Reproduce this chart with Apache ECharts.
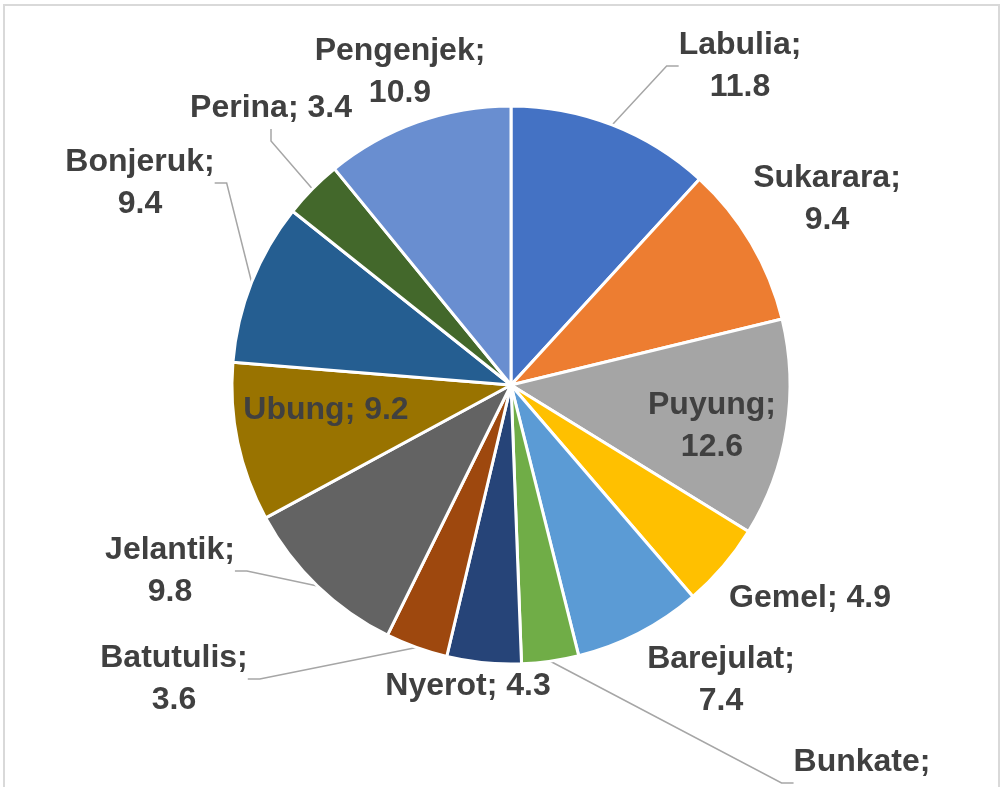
<!DOCTYPE html>
<html>
<head>
<meta charset="utf-8">
<script src="https://cdn.jsdelivr.net/npm/echarts@6/dist/echarts.min.js"></script>
<style>
  html, body { margin: 0; padding: 0; background: #fff; }
  #chart { width: 1004px; height: 787px; }
</style>
</head>
<body>
<div id="chart"></div>
<script>
// data, clockwise from 12 o'clock
var names = ['Labulia', 'Sukarara', 'Puyung', 'Gemel', 'Barejulat', 'Bunkate', 'Nyerot',
    'Batutulis', 'Jelantik', 'Ubung', 'Bonjeruk', 'Perina', 'Pengenjek'];
var values = [11.8, 9.4, 12.6, 4.9, 7.4, 3.3, 4.3, 3.6, 9.8, 9.2, 9.4, 3.4, 10.9];
var colors = ['#4472C4', '#ED7D31', '#A5A5A5', '#FFC000', '#5B9BD5', '#70AD47', '#264478',
    '#9E480E', '#636363', '#997300', '#255E91', '#43682B', '#698ED0'];

// labels written on one line
var oneLine = ['Gemel', 'Nyerot', 'Ubung', 'Perina'];
// labels with a leader line
var withLine = ['Labulia', 'Bunkate', 'Batutulis', 'Jelantik', 'Bonjeruk', 'Perina'];
// label centres (px)
var labelPos = [
    [740, 66], [827, 199], [712, 426], [810, 598], [721, 680], [862, 783], [468, 686],
    [174, 679], [170, 571], [326, 410], [140, 183], [271, 108], [400, 72]
];

var chart = echarts.init(document.getElementById('chart'));

var pieData = names.map(function (n, i) {
    return {
        name: n,
        value: values[i],
        itemStyle: { color: colors[i] },
        labelLine: { show: withLine.indexOf(n) >= 0 }
    };
});

var option = {
    animation: false,
    graphic: [{
        type: 'rect',
        shape: { x: 4, y: 5, width: 995, height: 900 },
        style: { fill: 'none', stroke: '#d9d9d9', lineWidth: 2 },
        silent: true
    }],
    series: [{
        type: 'pie',
        center: [511, 385],
        radius: 279,
        startAngle: 90,
        clockwise: true,
        avoidLabelOverlap: false,
        emphasis: { disabled: true },
        itemStyle: { borderColor: '#fff', borderWidth: 3 },
        label: {
            show: true,
            position: 'outside',
            color: '#404040',
            fontFamily: '"Liberation Sans Narrow", "Liberation Sans", sans-serif',
            fontWeight: 'bold',
            fontSize: 32,
            lineHeight: 42,
            formatter: function (p) {
                var v = p.value.toFixed(1);
                return oneLine.indexOf(p.name) >= 0 ? p.name + '; ' + v : p.name + ';\n' + v;
            }
        },
        labelLine: {
            length: 10,
            length2: 12,
            lineStyle: { color: '#a6a6a6', width: 1.5 }
        },
        labelLayout: function (params) {
            var pos = labelPos[params.dataIndex];
            return { x: pos[0], y: pos[1], align: 'center', verticalAlign: 'middle' };
        },
        data: pieData
    }]
};

chart.setOption(option);
</script>
</body>
</html>
